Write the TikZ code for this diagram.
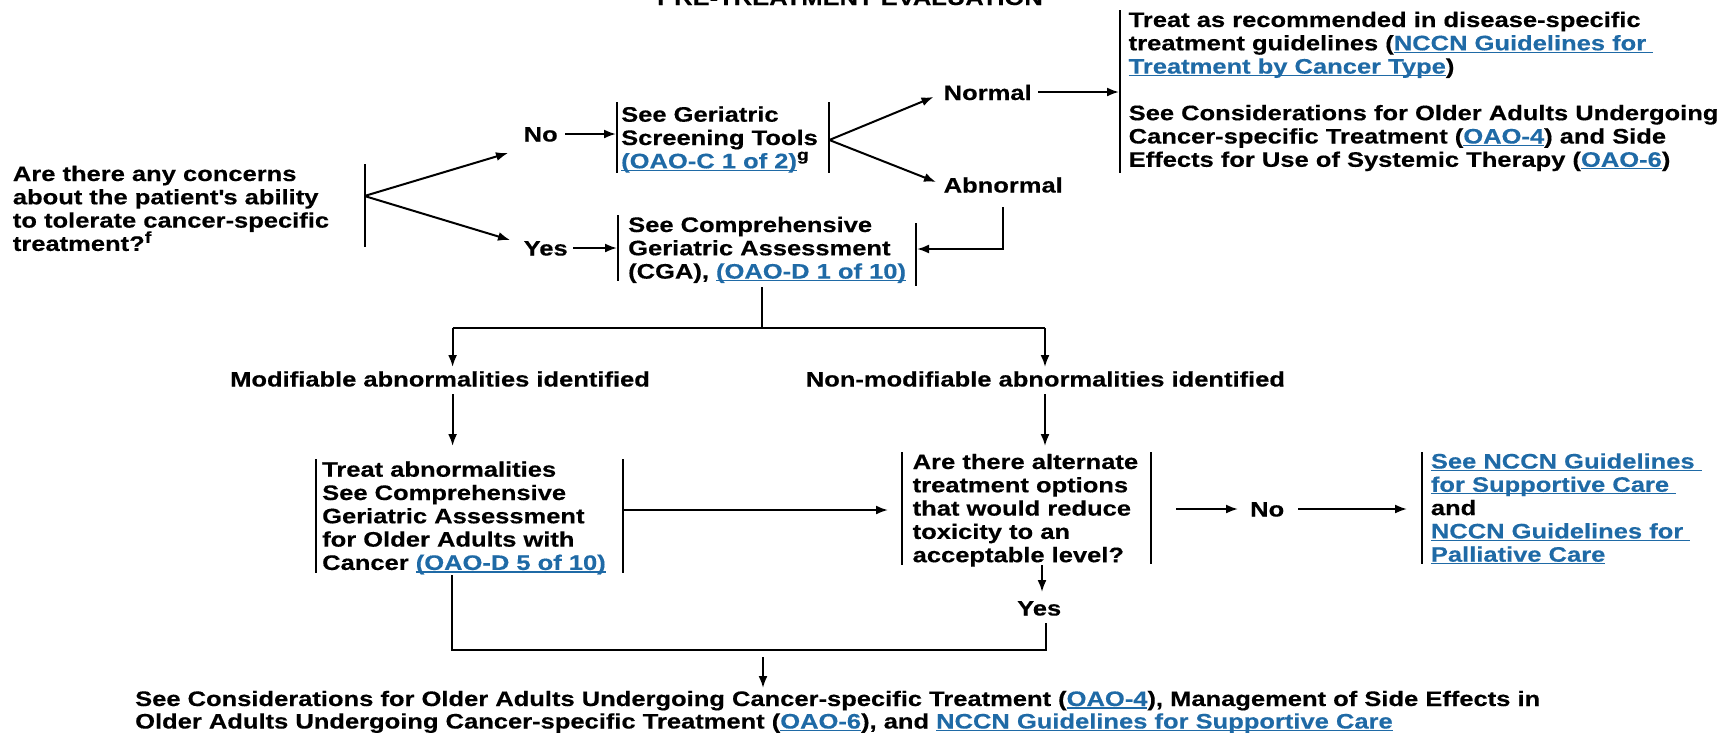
\documentclass[tikz,border=0pt]{standalone}
\usepackage{fontspec}
\setmainfont{Liberation Sans}[FakeStretch=1.215, BoldFeatures={FakeBold=0.4}]
\usetikzlibrary{arrows.meta}
\definecolor{lnk}{RGB}{31,106,166}
\newcommand\lk[1]{\textcolor{lnk}{\setbox0\hbox{#1}\rlap{\rule[-2.6pt]{\wd0}{1.3pt}}\box0}}
\newcommand\sps[1]{\raisebox{8pt}{\fontsize{16pt}{16pt}\selectfont #1}}
\newcommand\ml[1]{\vtop{\lineskiplimit=-100pt #1}}
\tikzset{
  txt/.style={inner sep=0pt, anchor=base west, font=\fontsize{21pt}{23.3pt}\selectfont\bfseries},
  cn/.style={line width=2pt},
  ar/.style={line width=2pt, -{Latex[length=12pt,width=9pt]}},
}
\begin{document}
\begin{tikzpicture}[x=1pt,y=-1pt]
\useasboundingbox (0,0) rectangle (1723,732);
% title (clipped at top, as in the reference)
\node[txt, anchor=base] (title) at (850,5) {PRE-TREATMENT EVALUATION};
% question
\node[txt] (q) at (12.7,181) {\ml{\hbox{Are there any concerns}\hbox{about the patient\textquotesingle s ability}\hbox{to tolerate cancer-specific}\hbox{treatment?\sps{f}}}};
\coordinate (qb1) at (364.5,164); \coordinate (qb2) at (364.5,247);
\coordinate (qbr) at (364.5,196);
\coordinate (qno) at (508,153); \coordinate (qyes) at (510,240);
\draw[cn] (qb1) -- (qb2);
\draw[ar] (qbr) -- (qno);
\draw[ar] (qbr) -- (qyes);
% No -> screening
\node[txt] (no1) at (523.5,141.5) {No};
\coordinate (no1a) at (565,134); \coordinate (no1b) at (616,134);
\draw[ar] (no1a) -- (no1b);
\node[txt] (scr) at (621,121.7) {\ml{\hbox{See Geriatric}\hbox{Screening Tools}\hbox{\lk{(OAO-C 1 of 2)}\sps{g}}}};
\coordinate (s1a) at (617,102); \coordinate (s1b) at (617,173);
\coordinate (s2a) at (829.3,102); \coordinate (s2b) at (829.3,173);
\draw[cn] (s1a) -- (s1b);
\draw[cn] (s2a) -- (s2b);
\coordinate (sbr) at (829.3,140);
\coordinate (snorm) at (933.5,97); \coordinate (sabn) at (936,182);
\draw[ar] (sbr) -- (snorm);
\draw[ar] (sbr) -- (sabn);
% Normal
\node[txt] (normal) at (943.5,100) {Normal};
\coordinate (na) at (1038,92); \coordinate (nb) at (1119,92);
\draw[ar] (na) -- (nb);
\coordinate (r1) at (1120,10); \coordinate (r2) at (1120,173);
\draw[cn] (r1) -- (r2);
\node[txt] (rt) at (1128.5,27) {\ml{\hbox{Treat as recommended in disease-specific}\hbox{treatment guidelines (\lk{NCCN Guidelines for\ }}\hbox{\lk{Treatment by Cancer Type})}\hbox{}\hbox{See Considerations for Older Adults Undergoing}\hbox{Cancer-specific Treatment (\lk{OAO-4}) and Side}\hbox{Effects for Use of Systemic Therapy (\lk{OAO-6})}}};
% Abnormal
\node[txt] (abn) at (943.5,192.5) {Abnormal};
\coordinate (aa) at (1003,207); \coordinate (ab) at (1003,249); \coordinate (ac) at (917,249);
\draw[ar] (aa) -- (ab) -- (ac);
% Yes -> CGA
\node[txt] (yes1) at (523.5,255.5) {Yes};
\coordinate (y1a) at (573,248); \coordinate (y1b) at (617,248);
\draw[ar] (y1a) -- (y1b);
\node[txt] (cga) at (628,232) {\ml{\hbox{See Comprehensive}\hbox{Geriatric Assessment}\hbox{(CGA), \lk{(OAO-D 1 of 10)}}}};
\coordinate (c1a) at (618.3,215); \coordinate (c1b) at (618.3,281);
\coordinate (c2a) at (916,223); \coordinate (c2b) at (916,286);
\draw[cn] (c1a) -- (c1b);
\draw[cn] (c2a) -- (c2b);
% split
\coordinate (d1) at (762.3,287); \coordinate (d2) at (762.3,328);
\coordinate (hl) at (452.6,328); \coordinate (hr) at (1045,328);
\coordinate (hlt) at (452.6,367); \coordinate (hrt) at (1045,367);
\draw[cn] (d1) -- (d2);
\draw[cn] (hl) -- (hr);
\draw[ar] (hl) -- (hlt);
\draw[ar] (hr) -- (hrt);
\node[txt] (mod) at (230,386.5) {Modifiable abnormalities identified};
\node[txt] (nonmod) at (805.6,386.5) {Non-modifiable abnormalities identified};
\coordinate (m1) at (452.6,394); \coordinate (m2) at (452.6,446);
\coordinate (n1) at (1045,394); \coordinate (n2) at (1045,446);
\draw[ar] (m1) -- (m2);
\draw[ar] (n1) -- (n2);
% Treat box
\node[txt] (treat) at (322,476.7) {\ml{\hbox{Treat abnormalities}\hbox{See Comprehensive}\hbox{Geriatric Assessment}\hbox{for Older Adults with}\hbox{Cancer \lk{(OAO-D 5 of 10)}}}};
\coordinate (t1a) at (316,459); \coordinate (t1b) at (316,573);
\coordinate (t2a) at (623,459); \coordinate (t2b) at (623,573);
\draw[cn] (t1a) -- (t1b);
\draw[cn] (t2a) -- (t2b);
\coordinate (ta) at (623,510); \coordinate (tb) at (888,510);
\draw[ar] (ta) -- (tb);
% alternate box
\node[txt] (alt) at (912.5,469) {\ml{\hbox{Are there alternate}\hbox{treatment options}\hbox{that would reduce}\hbox{toxicity to an}\hbox{acceptable level?}}};
\coordinate (a1a) at (902,452); \coordinate (a1b) at (902,565);
\coordinate (a2a) at (1150.7,452); \coordinate (a2b) at (1150.7,564);
\draw[cn] (a1a) -- (a1b);
\draw[cn] (a2a) -- (a2b);
\coordinate (o1) at (1176,509); \coordinate (o2) at (1238,509);
\draw[ar] (o1) -- (o2);
\node[txt] (no2) at (1250,516.5) {No};
\coordinate (o3) at (1298,509); \coordinate (o4) at (1407,509);
\draw[ar] (o3) -- (o4);
\coordinate (p1) at (1421.7,452); \coordinate (p2) at (1421.7,564);
\draw[cn] (p1) -- (p2);
\node[txt] (sup) at (1430.7,468.5) {\ml{\hbox{\lk{See NCCN Guidelines\ }}\hbox{\lk{for Supportive Care\ }}\hbox{and}\hbox{\lk{NCCN Guidelines for\ }}\hbox{\lk{Palliative Care}}}};
% Yes below
\coordinate (ya) at (1042,565); \coordinate (yb) at (1042,592);
\draw[ar] (ya) -- (yb);
\node[txt] (yes2) at (1017,615.5) {Yes};
\coordinate (b1) at (452,575); \coordinate (b2) at (452,650);
\coordinate (b3) at (1045.6,650); \coordinate (b4) at (1045.6,623);
\draw[cn] (b1) -- (b2) -- (b3) -- (b4);
\coordinate (f1) at (763,657); \coordinate (f2) at (763,688);
\draw[ar] (f1) -- (f2);
\node[txt] (final) at (135,706) {\ml{\baselineskip=22.5pt\hbox{See Considerations for Older Adults Undergoing Cancer-specific Treatment (\lk{OAO-4}), Management of Side Effects in}\hbox{Older Adults Undergoing Cancer-specific Treatment (\lk{OAO-6}), and \lk{NCCN Guidelines for Supportive Care}}}};
\end{tikzpicture}
\end{document}
